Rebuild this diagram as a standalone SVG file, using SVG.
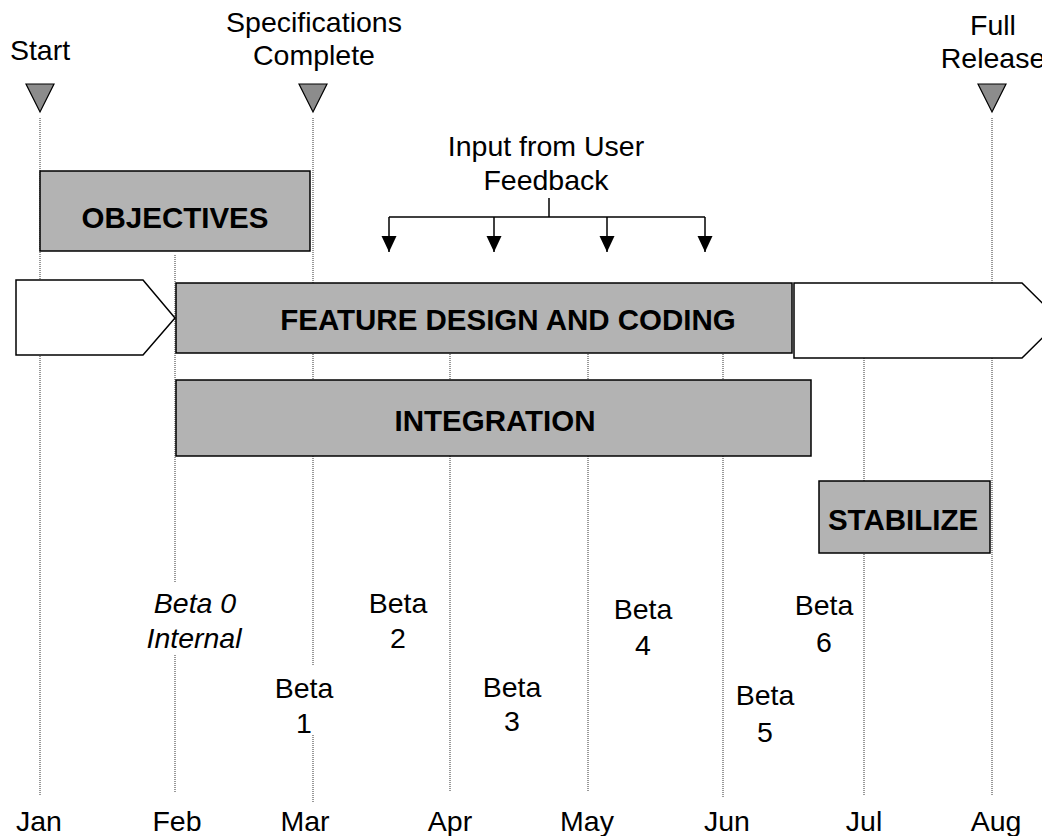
<svg xmlns="http://www.w3.org/2000/svg" width="1042" height="836" viewBox="0 0 1042 836">
  <defs>
    <style>
      .t { font-family: "Liberation Sans", Arial, sans-serif; font-size: 28.5px; fill: #000; text-anchor: middle; }
      .b { font-weight: bold; font-size: 29.5px; }
      .i { font-style: italic; }
      .grid { stroke: #333; stroke-width: 1; stroke-dasharray: 1 1; fill: none; }
      .phase { fill: #b3b3b3; stroke: #000; stroke-width: 1.5; }
      .open { fill: #fff; stroke: #000; stroke-width: 1.5; }
      .milestone { fill: #8c8c8c; stroke: #000; stroke-width: 1.2; }
      .conn { stroke: #000; stroke-width: 1.5; fill: none; }
    </style>
    <marker id="arrowDown" markerWidth="16" markerHeight="16" refX="16" refY="8" orient="auto" markerUnits="userSpaceOnUse" viewBox="0 0 16 16">
      <path d="M0,0.5 L16,8 L0,15.5 Z" fill="#000"/>
    </marker>
  </defs>

  <rect width="1042" height="836" fill="#fff"/>

  <!-- month gridlines -->
  <g id="gridlines" class="grid">
    <line x1="40" y1="118" x2="40" y2="795"/>
    <line x1="175" y1="255" x2="175" y2="583"/>
    <line x1="175" y1="655" x2="175" y2="793"/>
    <line x1="313" y1="118" x2="313" y2="665"/>
    <line x1="313" y1="735" x2="313" y2="803"/>
    <line x1="450" y1="290" x2="450" y2="792"/>
    <line x1="588" y1="290" x2="588" y2="792"/>
    <line x1="723" y1="290" x2="723" y2="798"/>
    <line x1="864" y1="300" x2="864" y2="796"/>
    <line x1="992" y1="118" x2="992" y2="795"/>
  </g>

  <!-- milestones -->
  <g id="milestone-start">
    <text class="t" x="40" y="60">Start</text>
    <path class="milestone" d="M26,84 L54,84 L40,112 Z"/>
  </g>
  <g id="milestone-specs">
    <text class="t" x="314" y="32">Specifications</text>
    <text class="t" x="314" y="65">Complete</text>
    <path class="milestone" d="M299,84 L327,84 L313,112 Z"/>
  </g>
  <g id="milestone-release">
    <text class="t" x="993" y="35">Full</text>
    <text class="t" x="993" y="68">Release</text>
    <path class="milestone" d="M978,84 L1006,84 L992,112 Z"/>
  </g>

  <!-- phases -->
  <g id="objectives">
    <rect class="phase" x="40" y="171" width="270" height="80"/>
    <text class="t b" x="175" y="228">OBJECTIVES</text>
  </g>
  <g id="lead-in">
    <path class="open" d="M16,280 L143,280 L175,318 L143,355 L16,355 Z"/>
  </g>
  <g id="feature-design">
    <rect class="phase" x="176" y="283" width="616" height="70"/>
    <text class="t b" x="508" y="330">FEATURE DESIGN AND CODING</text>
  </g>
  <g id="lead-out">
    <path class="open" d="M794,283 L1022,283 L1060,320.5 L1022,358 L794,358 Z"/>
  </g>
  <g id="integration">
    <rect class="phase" x="176" y="380" width="635" height="76"/>
    <text class="t b" x="495" y="431">INTEGRATION</text>
  </g>
  <g id="stabilize">
    <rect class="phase" x="819" y="481" width="171" height="72"/>
    <text class="t b" x="903" y="530">STABILIZE</text>
  </g>

  <!-- user feedback -->
  <g id="feedback">
    <text class="t" x="546" y="156">Input from User</text>
    <text class="t" x="546" y="190">Feedback</text>
  </g>
  <g id="connectors" class="conn">
    <line x1="549" y1="198" x2="549" y2="217"/>
    <line x1="389" y1="217" x2="705" y2="217"/>
    <line x1="389" y1="217" x2="389" y2="252" marker-end="url(#arrowDown)"/>
    <line x1="494" y1="217" x2="494" y2="252" marker-end="url(#arrowDown)"/>
    <line x1="607" y1="217" x2="607" y2="252" marker-end="url(#arrowDown)"/>
    <line x1="705" y1="217" x2="705" y2="252" marker-end="url(#arrowDown)"/>
  </g>

  <!-- beta releases -->
  <g id="beta-0">
    <text class="t i" x="195" y="613">Beta 0</text>
    <text class="t i" x="194" y="648">Internal</text>
  </g>
  <g id="beta-1">
    <text class="t" x="304" y="698">Beta</text>
    <text class="t" x="304" y="733">1</text>
  </g>
  <g id="beta-2">
    <text class="t" x="398" y="613">Beta</text>
    <text class="t" x="398" y="648">2</text>
  </g>
  <g id="beta-3">
    <text class="t" x="512" y="697">Beta</text>
    <text class="t" x="512" y="731">3</text>
  </g>
  <g id="beta-4">
    <text class="t" x="643" y="619">Beta</text>
    <text class="t" x="643" y="655">4</text>
  </g>
  <g id="beta-5">
    <text class="t" x="765" y="705">Beta</text>
    <text class="t" x="765" y="742">5</text>
  </g>
  <g id="beta-6">
    <text class="t" x="824" y="615">Beta</text>
    <text class="t" x="824" y="652">6</text>
  </g>

  <!-- months -->
  <g id="months">
    <text class="t" x="39" y="831">Jan</text>
    <text class="t" x="177" y="831">Feb</text>
    <text class="t" x="305" y="831">Mar</text>
    <text class="t" x="450" y="831">Apr</text>
    <text class="t" x="587" y="831">May</text>
    <text class="t" x="727" y="831">Jun</text>
    <text class="t" x="864" y="831">Jul</text>
    <text class="t" x="996" y="831">Aug</text>
  </g>
</svg>
